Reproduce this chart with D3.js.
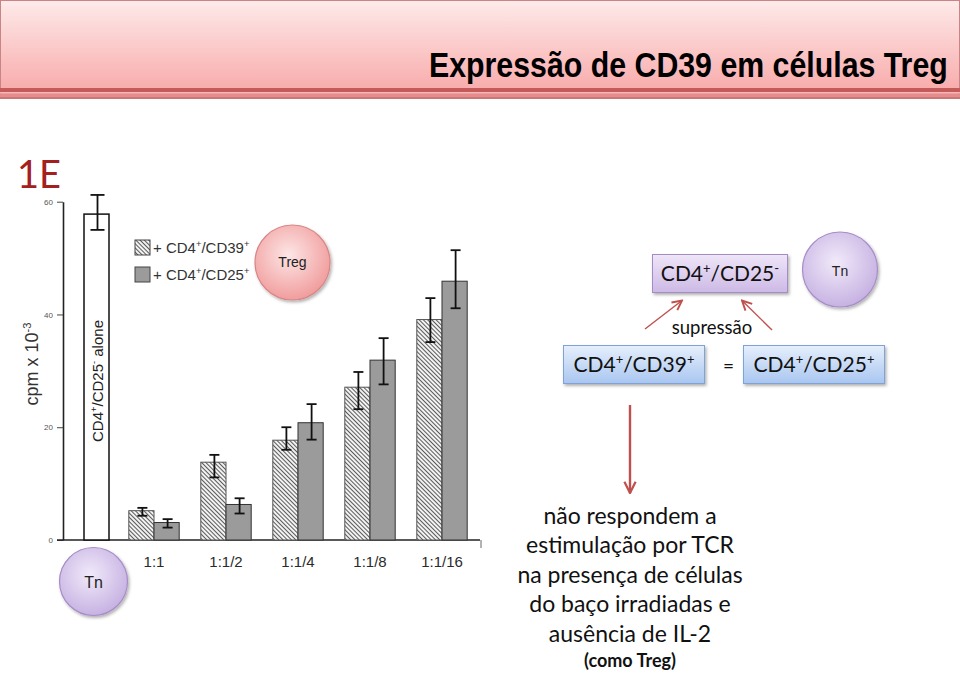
<!DOCTYPE html>
<html>
<head>
<meta charset="utf-8">
<title>Expressão de CD39 em células Treg</title>
<style>
  body { margin: 0; background: #fff; }
  svg text { font-family: "Liberation Sans", Arial, sans-serif; }
  .cal { font-family: Lato, "Noto Sans", sans-serif; }
</style>
</head>
<body>
<svg width="960" height="673"></svg>
<script src="https://cdn.jsdelivr.net/npm/d3@7"></script>
<script>

// data (cpm x 10^-3)
var groups = ["1:1", "1:1/2", "1:1/4", "1:1/8", "1:1/16"];
var series = ["CD39", "CD25"];
var cd39   = [5.2, 13.8, 17.7, 27.1, 39.1];
var cd39Hi = [5.7, 15.1, 20.0, 29.8, 42.9];
var cd39Lo = [4.3, 11.1, 16.0, 23.2, 35.1];
var cd25   = [3.1, 6.3, 20.8, 31.9, 45.9];
var cd25Hi = [3.7, 7.4, 24.1, 35.8, 51.4];
var cd25Lo = [2.2, 4.7, 17.8, 27.6, 41.1];
var control   = ["alone"];
var controlV  = [57.8];
var controlHi = [61.2];
var controlLo = [55.0];
var yTicks = [0, 20, 40, 60];
var notes = ["não respondem a", "estimulação por TCR", "na presença de células",
             "do baço irradiadas e", "ausência de IL-2"];

var svg = d3.select("svg");
var red = "#c0504d";

// ---- defs
var defs = svg.append("defs");
function lin(id, c1, c2) {
  var g = defs.append("linearGradient").attr("id", id)
    .attr("x1", 0).attr("y1", 0).attr("x2", 0).attr("y2", 1);
  g.append("stop").attr("offset", "0%").attr("stop-color", c1);
  g.append("stop").attr("offset", "100%").attr("stop-color", c2);
}
function rad(id, c1, c2) {
  var g = defs.append("radialGradient").attr("id", id)
    .attr("cx", "45%").attr("cy", "40%").attr("r", "60%");
  g.append("stop").attr("offset", "0%").attr("stop-color", c1);
  g.append("stop").attr("offset", "100%").attr("stop-color", c2);
}
lin("band", "#feeaea", "#f8a6a6");
lin("lav", "#efe6f8", "#cdb9e6");
lin("blue", "#e6effc", "#a9c6f0");
rad("pink", "#fde6e6", "#f19d9d");
rad("lavc", "#f1eafa", "#c7b2e2");

var hatch = defs.append("pattern").attr("id", "hatch")
  .attr("patternUnits", "userSpaceOnUse").attr("width", 3).attr("height", 3)
  .attr("patternTransform", "rotate(-45)");
hatch.append("rect").attr("width", 3).attr("height", 3).attr("fill", "#f2f2f2");
hatch.append("line").attr("x1", 0.5).attr("x2", 0.5).attr("y1", 0).attr("y2", 3)
  .attr("stroke", "#5a5a5a").attr("stroke-width", 1);

var shadow = defs.append("filter").attr("id", "sh")
  .attr("x", "-20%").attr("y", "-20%").attr("width", "150%").attr("height", "150%");
shadow.append("feDropShadow").attr("dx", 1.5).attr("dy", 2).attr("stdDeviation", 1.5)
  .attr("flood-color", "#000").attr("flood-opacity", 0.3);

function marker(id, w) {
  defs.append("marker").attr("id", id)
    .attr("viewBox", "0 0 10 10").attr("refX", 9).attr("refY", 5)
    .attr("markerUnits", "userSpaceOnUse").attr("markerWidth", w).attr("markerHeight", w)
    .attr("orient", "auto")
    .append("path").attr("d", "M1,1L9,5L1,9")
    .attr("fill", "none").attr("stroke", red).attr("stroke-width", 1.6);
}
marker("head", 12);
marker("headBig", 14);

// text with superscripts, parts beginning with ^ are raised
function rich(t, parts, size) {
  var up = false;
  parts.forEach(function(p) {
    var sup = p[0] === "^";
    var s = t.append("tspan").text(sup ? p.slice(1) : p);
    if (sup) s.attr("font-size", size * 0.62).attr("dy", up ? 0 : -size * 0.38);
    else s.attr("dy", up ? size * 0.38 : 0);
    up = sup;
  });
}

// ---- title band
svg.append("rect").attr("x", 0.5).attr("y", 0.5).attr("width", 959).attr("height", 98)
  .attr("fill", "url(#band)").attr("stroke", "#c98585");
svg.append("rect").attr("x", 0).attr("y", 88).attr("width", 960).attr("height", 4).attr("fill", "#c55a5a");
svg.append("rect").attr("x", 0).attr("y", 92).attr("width", 960).attr("height", 1.5).attr("fill", "#f6b9b9");
svg.append("rect").attr("x", 0).attr("y", 93.5).attr("width", 960).attr("height", 3.5).attr("fill", "#e68c8c");
svg.append("rect").attr("x", 0).attr("y", 97).attr("width", 960).attr("height", 2).attr("fill", "#c97878");
// condensed bold title, squeezed to the width it has in the slide
var title = svg.append("text").attr("font-size", 36).attr("font-weight", "bold").attr("fill", "#000")
  .text("Expressão de CD39 em células Treg");
var tw = title.node().getComputedTextLength();
title.attr("transform", "translate(429,77) scale(" + (519 / tw) + ",1)");

svg.append("text").attr("class", "cal").attr("x", 17).attr("y", 188)
  .attr("font-size", 38).attr("fill", "#a3201e").text("1E");

// ---- chart
var y = d3.scaleLinear().domain([0, 60]).range([540, 201.7]);
var x0 = d3.scaleBand().domain(groups).range([118, 478]).paddingInner(0.3).paddingOuter(0.15);
var x1 = d3.scaleBand().domain(series).range([0, x0.bandwidth()]);
var xc = d3.scaleBand().domain(control).range([84, 109]);
var fills = { CD39: "url(#hatch)", CD25: "#9b9b9b" };
var strokes = { CD39: "#555", CD25: "#333" };

var chart = svg.append("g").attr("class", "chart");

var yAxis = chart.append("g").attr("transform", "translate(63,0)")
  .call(d3.axisLeft(y).tickValues(yTicks).tickSize(6).tickPadding(4).tickSizeOuter(0));
yAxis.select(".domain").attr("stroke", "#222").attr("stroke-width", 1.6);
yAxis.selectAll(".tick line").attr("stroke", "#444");
yAxis.selectAll(".tick text").attr("font-size", 8).attr("fill", "#555")
  .style("font-family", "'Liberation Sans', Arial, sans-serif");

chart.append("line").attr("x1", 57).attr("x2", 480).attr("y1", y(0)).attr("y2", y(0))
  .attr("stroke", "#222").attr("stroke-width", 1.6);
chart.append("line").attr("x1", 481).attr("x2", 481).attr("y1", y(0)).attr("y2", y(0) + 8)
  .attr("stroke", "#666").attr("stroke-width", 1);

var xAxis = chart.append("g").attr("transform", "translate(0," + y(0) + ")")
  .call(d3.axisBottom(x0).tickSize(0).tickPadding(16));
xAxis.select(".domain").remove();
xAxis.selectAll(".tick text").attr("font-size", 15).attr("fill", "#2a2a2a")
  .style("font-family", "'Liberation Sans', Arial, sans-serif");

var ylab = chart.append("text").attr("text-anchor", "middle")
  .attr("transform", "translate(38,364) rotate(-90)")
  .attr("font-size", 18).attr("fill", "#333");
rich(ylab, ["cpm x 10", "^-3"], 18);

// control bar
chart.selectAll(".ctrl").data(control).enter().append("rect").attr("class", "ctrl")
  .attr("x", function(d) { return xc(d); }).attr("width", xc.bandwidth())
  .attr("y", function(d, i) { return y(controlV[i]); })
  .attr("height", function(d, i) { return y(0) - y(controlV[i]); })
  .attr("fill", "#fff").attr("stroke", "#111").attr("stroke-width", 1.5);

var clab = chart.append("text").attr("text-anchor", "middle")
  .attr("transform", "translate(" + (xc("alone") + xc.bandwidth() / 2 + 6) + ",381) rotate(-90)")
  .attr("font-size", 15).attr("fill", "#222");
rich(clab, ["CD4", "^+", "/CD25", "^-", " alone"], 15);

function errbar(sel, cx, hi, lo, cap) {
  sel.append("line").attr("x1", cx).attr("x2", cx).attr("y1", y(hi)).attr("y2", y(lo));
  sel.append("line").attr("x1", cx - cap).attr("x2", cx + cap).attr("y1", y(hi)).attr("y2", y(hi));
  sel.append("line").attr("x1", cx - cap).attr("x2", cx + cap).attr("y1", y(lo)).attr("y2", y(lo));
}
var eb = chart.append("g").attr("stroke", "#111").attr("stroke-width", 1.8);
control.forEach(function(d, i) {
  errbar(eb, xc(d) + xc.bandwidth() / 2 + 1, controlHi[i], controlLo[i], 7);
});

var rows = groups.map(function(g, i) {
  return { g: g, vals: [
    { s: "CD39", v: cd39[i], hi: cd39Hi[i], lo: cd39Lo[i] },
    { s: "CD25", v: cd25[i], hi: cd25Hi[i], lo: cd25Lo[i] }
  ]};
});

var grp = chart.selectAll(".grp").data(rows).enter().append("g").attr("class", "grp")
  .attr("transform", function(d) { return "translate(" + x0(d.g) + ",0)"; });
grp.selectAll("rect").data(function(d) { return d.vals; }).enter().append("rect")
  .attr("x", function(d) { return x1(d.s); }).attr("width", x1.bandwidth())
  .attr("y", function(d) { return y(d.v); })
  .attr("height", function(d) { return y(0) - y(d.v); })
  .attr("fill", function(d) { return fills[d.s]; })
  .attr("stroke", function(d) { return strokes[d.s]; }).attr("stroke-width", 1);
grp.each(function(d) {
  var g = d3.select(this).append("g").attr("stroke", "#111").attr("stroke-width", 1.8);
  d.vals.forEach(function(v) {
    errbar(g, x1(v.s) + x1.bandwidth() / 2 + 1, v.hi, v.lo, 5);
  });
});

// legend
var leg = chart.selectAll(".leg").data(series).enter().append("g").attr("class", "leg")
  .attr("transform", function(d, i) { return "translate(135," + (240 + i * 27) + ")"; });
leg.append("rect").attr("width", 15).attr("height", 15)
  .attr("fill", function(d) { return fills[d]; }).attr("stroke", "#444");
leg.each(function(d) {
  var t = d3.select(this).append("text").attr("x", 18).attr("y", 13)
    .attr("font-size", 15).attr("fill", "#333");
  rich(t, ["+ CD4", "^+", "/" + d, "^+"], 15);
});

// ---- cell circles
function cell(cx, cy, r, fill, stroke, label, size, ty) {
  var g = svg.append("g");
  g.append("circle").attr("cx", cx).attr("cy", cy).attr("r", r)
    .attr("fill", fill).attr("stroke", stroke).attr("stroke-width", 1.2)
    .attr("filter", "url(#sh)");
  g.append("text").attr("x", cx).attr("y", ty).attr("text-anchor", "middle")
    .attr("font-size", size).attr("fill", "#222").text(label);
}
cell(292.5, 262.5, 37.5, "url(#pink)", "#d98585", "Treg", 14, 267);
cell(840, 269.5, 37.5, "url(#lavc)", "#a58dc8", "Tn", 14, 276);
cell(93.5, 581.5, 34, "url(#lavc)", "#a58dc8", "Tn", 16, 588);

// ---- boxes
function box(x, yy, w, h, fill, stroke, parts, size) {
  svg.append("rect").attr("x", x).attr("y", yy).attr("width", w).attr("height", h)
    .attr("fill", fill).attr("stroke", stroke).attr("stroke-width", 1)
    .attr("filter", "url(#sh)");
  var t = svg.append("text").attr("class", "cal").attr("x", x + w / 2).attr("y", yy + h / 2 + size * 0.36)
    .attr("text-anchor", "middle").attr("font-size", size).attr("fill", "#111");
  rich(t, parts, size);
}
box(652.5, 254.5, 135, 38, "url(#lav)", "#a48cc4", ["CD4", "^+", "/CD25", "^-"], 21);
box(563.5, 345.5, 141, 38, "url(#blue)", "#7fa3d6", ["CD4", "^+", "/CD39", "^+"], 21);
box(743.5, 345.5, 141, 38, "url(#blue)", "#7fa3d6", ["CD4", "^+", "/CD25", "^+"], 21);

svg.append("text").attr("class", "cal").attr("x", 728.5).attr("y", 373)
  .attr("text-anchor", "middle").attr("font-size", 19).attr("fill", "#111").text("=");
svg.append("text").attr("class", "cal").attr("x", 712).attr("y", 334)
  .attr("text-anchor", "middle").attr("font-size", 18.5).attr("fill", "#111").text("supressão");

// arrows
svg.append("line").attr("x1", 645).attr("y1", 329).attr("x2", 682).attr("y2", 300.5)
  .attr("stroke", red).attr("stroke-width", 1.4).attr("marker-end", "url(#head)");
svg.append("line").attr("x1", 772).attr("y1", 330).attr("x2", 742).attr("y2", 300.5)
  .attr("stroke", red).attr("stroke-width", 1.4).attr("marker-end", "url(#head)");
svg.append("line").attr("x1", 630).attr("y1", 405).attr("x2", 630).attr("y2", 493)
  .attr("stroke", red).attr("stroke-width", 2.4).attr("marker-end", "url(#headBig)");

// ---- note text
svg.append("g").selectAll("text").data(notes).enter().append("text").attr("class", "cal")
  .attr("x", 630).attr("y", function(d, i) { return 523.5 + i * 29.6; })
  .attr("text-anchor", "middle").attr("font-size", 23).attr("fill", "#111")
  .text(function(d) { return d; });
svg.append("text").attr("class", "cal").attr("x", 630).attr("y", 667)
  .attr("text-anchor", "middle").attr("font-size", 18).attr("font-weight", "bold")
  .attr("fill", "#111").text("(como Treg)");

</script>
</body>
</html>
